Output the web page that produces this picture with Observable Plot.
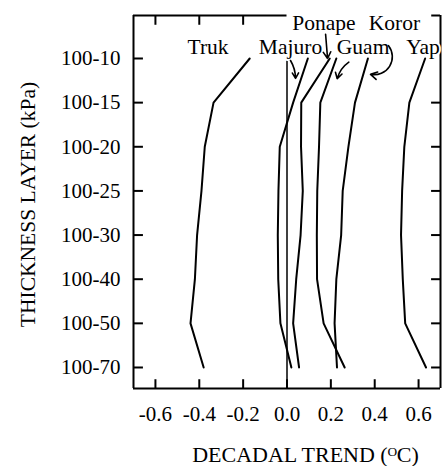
<!DOCTYPE html>
<html><head><meta charset="utf-8">
<script src="https://cdn.jsdelivr.net/npm/d3@7"></script>
<script src="https://cdn.jsdelivr.net/npm/@observablehq/plot@0.6"></script>
<style>body{margin:0;background:#fff}</style>
</head><body><div id="chart"></div>
<script>
// Thickness layers (top to bottom)
const layers = ["100-10","100-15","100-20","100-25","100-30","100-40","100-50","100-70"];
// Decadal trend (°C) per station, one value per layer
const truk   = [-0.17, -0.335, -0.375, -0.39, -0.41, -0.42, -0.44, -0.38];
const majuro = [0.095, 0.028, -0.033, -0.039, -0.042, -0.04, -0.03, 0.02];
const ponape = [0.195, 0.065, 0.064, 0.072, 0.062, 0.042, 0.028, 0.055];
const guam   = [0.225, 0.152, 0.146, 0.138, 0.136, 0.137, 0.167, 0.263];
const koror  = [0.369, 0.31, 0.28, 0.254, 0.247, 0.225, 0.217, 0.228];
const yap    = [0.63, 0.558, 0.535, 0.525, 0.52, 0.528, 0.539, 0.634];
const stations = ["Truk","Majuro","Ponape","Koror","Guam","Yap"];
const series = {Truk: truk, Majuro: majuro, Ponape: ponape, Koror: koror, Guam: guam, Yap: yap};
const xTicks = [-0.6, -0.4, -0.2, 0, 0.2, 0.4, 0.6];
// Station label anchors (trend, layer index)
const labelX = [-0.36, 0.016, 0.168, 0.49, 0.347, 0.62];
const labelY = [-0.25, -0.25, -0.795, -0.795, -0.25, -0.25];
// Label pointer arrows (Majuro, Ponape, Guam, Koror)
const arrowFrom = [[0.016, 0.045], [0.176, -0.55], [0.282, 0.084], [0.463, -0.29]];
const arrowTo   = [[0.039, 0.45], [0.185, 0.0], [0.229, 0.46], [0.381, 0.36]];
const arrowBend = [15, 0, -20, 70];

const xLabel = "DECADAL TREND (ᴼC)";
const yLabel = "THICKNESS LAYER (kPa)";

const xMin = -0.7, xMax = 0.7;
const yMin = -0.974, yMax = 7.476;
const tickLenX = 0.043;   // inward tick length in x units (~9px)
const tickLenY = 0.21;    // inward tick length in layer units (~9px)
const levelIdx = layers.map((_, i) => i);
const rows = stations.flatMap(s => series[s].map((v, i) => ({station: s, level: i, value: v})));
const labels = stations.map((s, i) => ({name: s, x: labelX[i], y: labelY[i]}));
const arrows = arrowFrom.map((f, i) => ({x1: f[0], y1: f[1], x2: arrowTo[i][0], y2: arrowTo[i][1], bend: arrowBend[i]}));

// tick segments (frame-relative)
const tickSegs = [
  ...levelIdx.map(i => ({x1: xMin, x2: xMin + tickLenX, y1: i, y2: i})),
  ...levelIdx.slice(1).map(i => ({x1: xMax - tickLenX, x2: xMax, y1: i, y2: i})),
  ...xTicks.map(t => ({x1: t, x2: t, y1: yMax - tickLenY, y2: yMax})),
  ...xTicks.slice(0, 3).map(t => ({x1: t, x2: t, y1: yMin, y2: yMin + tickLenY}))
];

const chart = Plot.plot({
  width: 442, height: 466,
  marginLeft: 133, marginRight: 2, marginTop: 15, marginBottom: 78,
  style: {fontFamily: "'Liberation Serif', 'Times New Roman', serif", fontSize: "21px", color: "black", background: "white"},
  x: {domain: [xMin, xMax]},
  y: {domain: [yMin, yMax], reverse: true},
  marks: [
    // frame
    Plot.ruleX([xMin, xMax], {stroke: "black", strokeWidth: 2}),
    Plot.ruleY([yMax], {stroke: "black", strokeWidth: 2}),
    Plot.ruleY([yMin], {x1: xMin, x2: 0.0, stroke: "black", strokeWidth: 2}),
    Plot.ruleY([yMin], {x1: 0.66, x2: xMax, stroke: "black", strokeWidth: 2}),
    // tick labels
    Plot.axisY({ticks: levelIdx, anchor: "left", tickSize: 0, tickPadding: 13, tickFormat: i => layers[i], stroke: "none", label: null, fontSize: 21}),
    Plot.axisX({ticks: xTicks, anchor: "bottom", tickSize: 0, tickPadding: 18, tickFormat: d => d.toFixed(1), stroke: "none", label: null, fontSize: 21}),
    // zero line
    Plot.ruleX([0], {y1: 0, y2: yMax, stroke: "black", strokeWidth: 1.5}),
    // station profiles
    Plot.line(rows, {x: "value", y: "level", z: "station", stroke: "black", strokeWidth: 2}),
    // station labels
    Plot.text(labels, {x: "x", y: "y", text: "name", fontSize: 21.5, fill: "black", stroke: "white", strokeWidth: 4, lineAnchor: "middle"}),
    // arrows (one mark each, constant bend)
    ...arrows.map(a => Plot.arrow([a], {x1: "x1", y1: "y1", x2: "x2", y2: "y2", bend: a.bend, stroke: "black", strokeWidth: 1.6, headLength: 7})),
    // axis titles
    Plot.text([xLabel], {frameAnchor: "bottom", textAnchor: "middle", dx: 18.5, dy: 66, fontSize: 22, lineAnchor: "middle"}),
    Plot.text([yLabel], {frameAnchor: "left", textAnchor: "middle", rotate: -90, dx: -105, dy: 2.5, fontSize: 21.5, lineAnchor: "middle"}),
    // inward ticks, drawn last
    Plot.link(tickSegs, {x1: "x1", x2: "x2", y1: "y1", y2: "y2", stroke: "black", strokeWidth: 2})
  ]
});
document.getElementById("chart").append(chart);
</script>
</body></html>
